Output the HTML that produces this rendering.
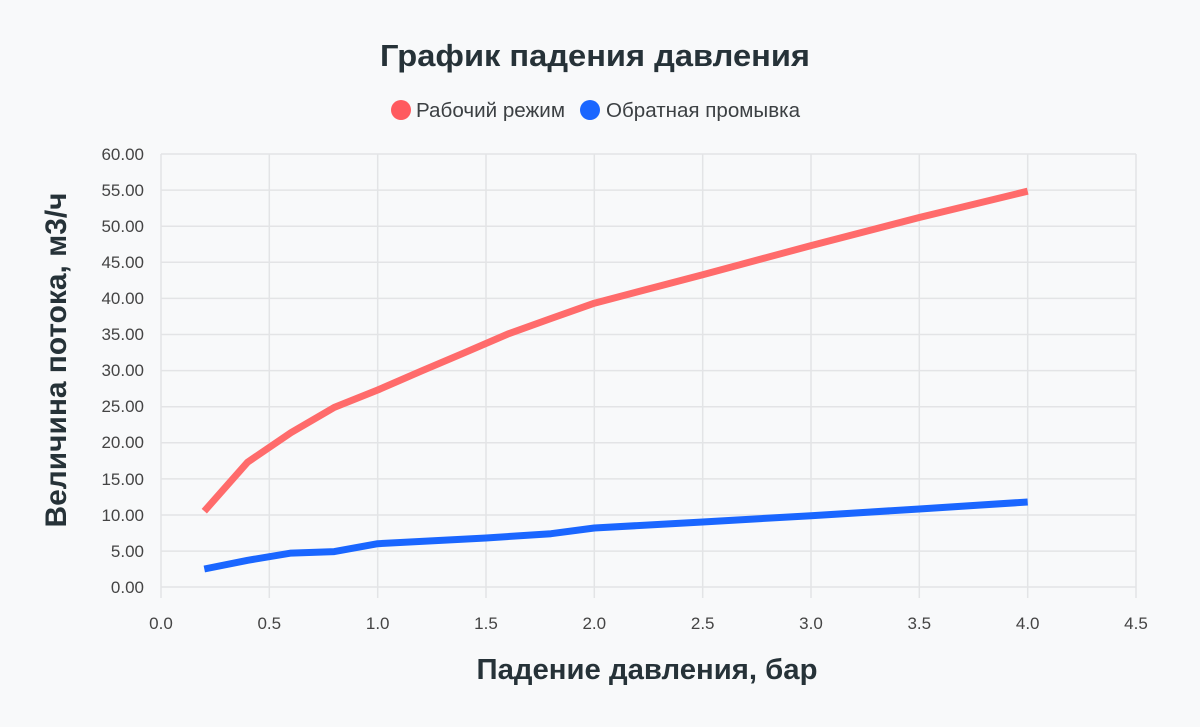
<!DOCTYPE html>
<html><head><meta charset="utf-8"><style>
html,body{margin:0;padding:0;background:#f8f9fa;}
svg{display:block;font-family:"Liberation Sans",sans-serif;}
</style></head><body>
<svg width="1200" height="727" viewBox="0 0 1200 727">
<rect width="1200" height="727" fill="#f8f9fa"/>
<text x="595" y="66" text-anchor="middle" font-size="31" font-weight="bold" fill="#263238" textLength="430" lengthAdjust="spacingAndGlyphs">График падения давления</text>
<circle cx="401" cy="110" r="10" fill="#ff5a5f"/>
<text x="416" y="117" font-size="20" fill="#3c4043" textLength="149" lengthAdjust="spacingAndGlyphs">Рабочий режим</text>
<circle cx="590" cy="110" r="10" fill="#1a66ff"/>
<text x="606" y="117" font-size="20" fill="#3c4043" textLength="194" lengthAdjust="spacingAndGlyphs">Обратная промывка</text>
<g stroke="#e3e4e6" stroke-width="1.5">
<line x1="161" y1="154" x2="1136" y2="154"/><line x1="161" y1="190.1" x2="1136" y2="190.1"/><line x1="161" y1="226.2" x2="1136" y2="226.2"/><line x1="161" y1="262.3" x2="1136" y2="262.3"/><line x1="161" y1="298.4" x2="1136" y2="298.4"/><line x1="161" y1="334.5" x2="1136" y2="334.5"/><line x1="161" y1="370.6" x2="1136" y2="370.6"/><line x1="161" y1="406.7" x2="1136" y2="406.7"/><line x1="161" y1="442.8" x2="1136" y2="442.8"/><line x1="161" y1="478.9" x2="1136" y2="478.9"/><line x1="161" y1="515" x2="1136" y2="515"/><line x1="161" y1="551.1" x2="1136" y2="551.1"/><line x1="161" y1="587" x2="1136" y2="587"/>
<line x1="161" y1="154" x2="161" y2="598"/><line x1="269.3" y1="154" x2="269.3" y2="598"/><line x1="377.7" y1="154" x2="377.7" y2="598"/><line x1="486" y1="154" x2="486" y2="598"/><line x1="594.3" y1="154" x2="594.3" y2="598"/><line x1="702.7" y1="154" x2="702.7" y2="598"/><line x1="811" y1="154" x2="811" y2="598"/><line x1="919.3" y1="154" x2="919.3" y2="598"/><line x1="1027.7" y1="154" x2="1027.7" y2="598"/><line x1="1136" y1="154" x2="1136" y2="598"/>
</g>
<g font-size="17" fill="#444" text-anchor="end">
<text x="144" y="160">60.00</text><text x="144" y="196">55.00</text><text x="144" y="232">50.00</text><text x="144" y="268">45.00</text><text x="144" y="304">40.00</text><text x="144" y="340">35.00</text><text x="144" y="376">30.00</text><text x="144" y="412">25.00</text><text x="144" y="448">20.00</text><text x="144" y="485">15.00</text><text x="144" y="521">10.00</text><text x="144" y="557">5.00</text><text x="144" y="593">0.00</text>
</g>
<g font-size="17" fill="#444" text-anchor="middle">
<text x="161" y="629">0.0</text><text x="269.3" y="629">0.5</text><text x="377.7" y="629">1.0</text><text x="486" y="629">1.5</text><text x="594.3" y="629">2.0</text><text x="702.7" y="629">2.5</text><text x="811" y="629">3.0</text><text x="919.3" y="629">3.5</text><text x="1027.7" y="629">4.0</text><text x="1136" y="629">4.5</text>
</g>
<text x="647" y="679" text-anchor="middle" font-size="29" font-weight="bold" fill="#263238" textLength="341" lengthAdjust="spacingAndGlyphs">Падение давления, бар</text>
<text transform="translate(66,360) rotate(-90)" text-anchor="middle" font-size="30" font-weight="bold" fill="#263238" textLength="335" lengthAdjust="spacingAndGlyphs">Величина потока, м3/ч</text>
<polyline fill="none" stroke="#ff6b6b" stroke-width="7" stroke-linejoin="round" points="204.3,511.2 247.7,462.1 291,432.6 334.3,407.4 377.7,390 421,371.2 464.3,352.8 507.7,334.1 551,318.5 594.3,303.2 702.7,274.8 811,245.6 919.3,217.5 1027.7,191.2"/>
<polyline fill="none" stroke="#1a66ff" stroke-width="7" stroke-linejoin="round" points="204.3,569 247.7,560.3 291,553.1 334.3,551.6 377.7,543.7 486,538 551,533.7 594.3,528 702.7,522 811,515.7 919.3,509 1027.7,502"/>
</svg>
</body></html>
